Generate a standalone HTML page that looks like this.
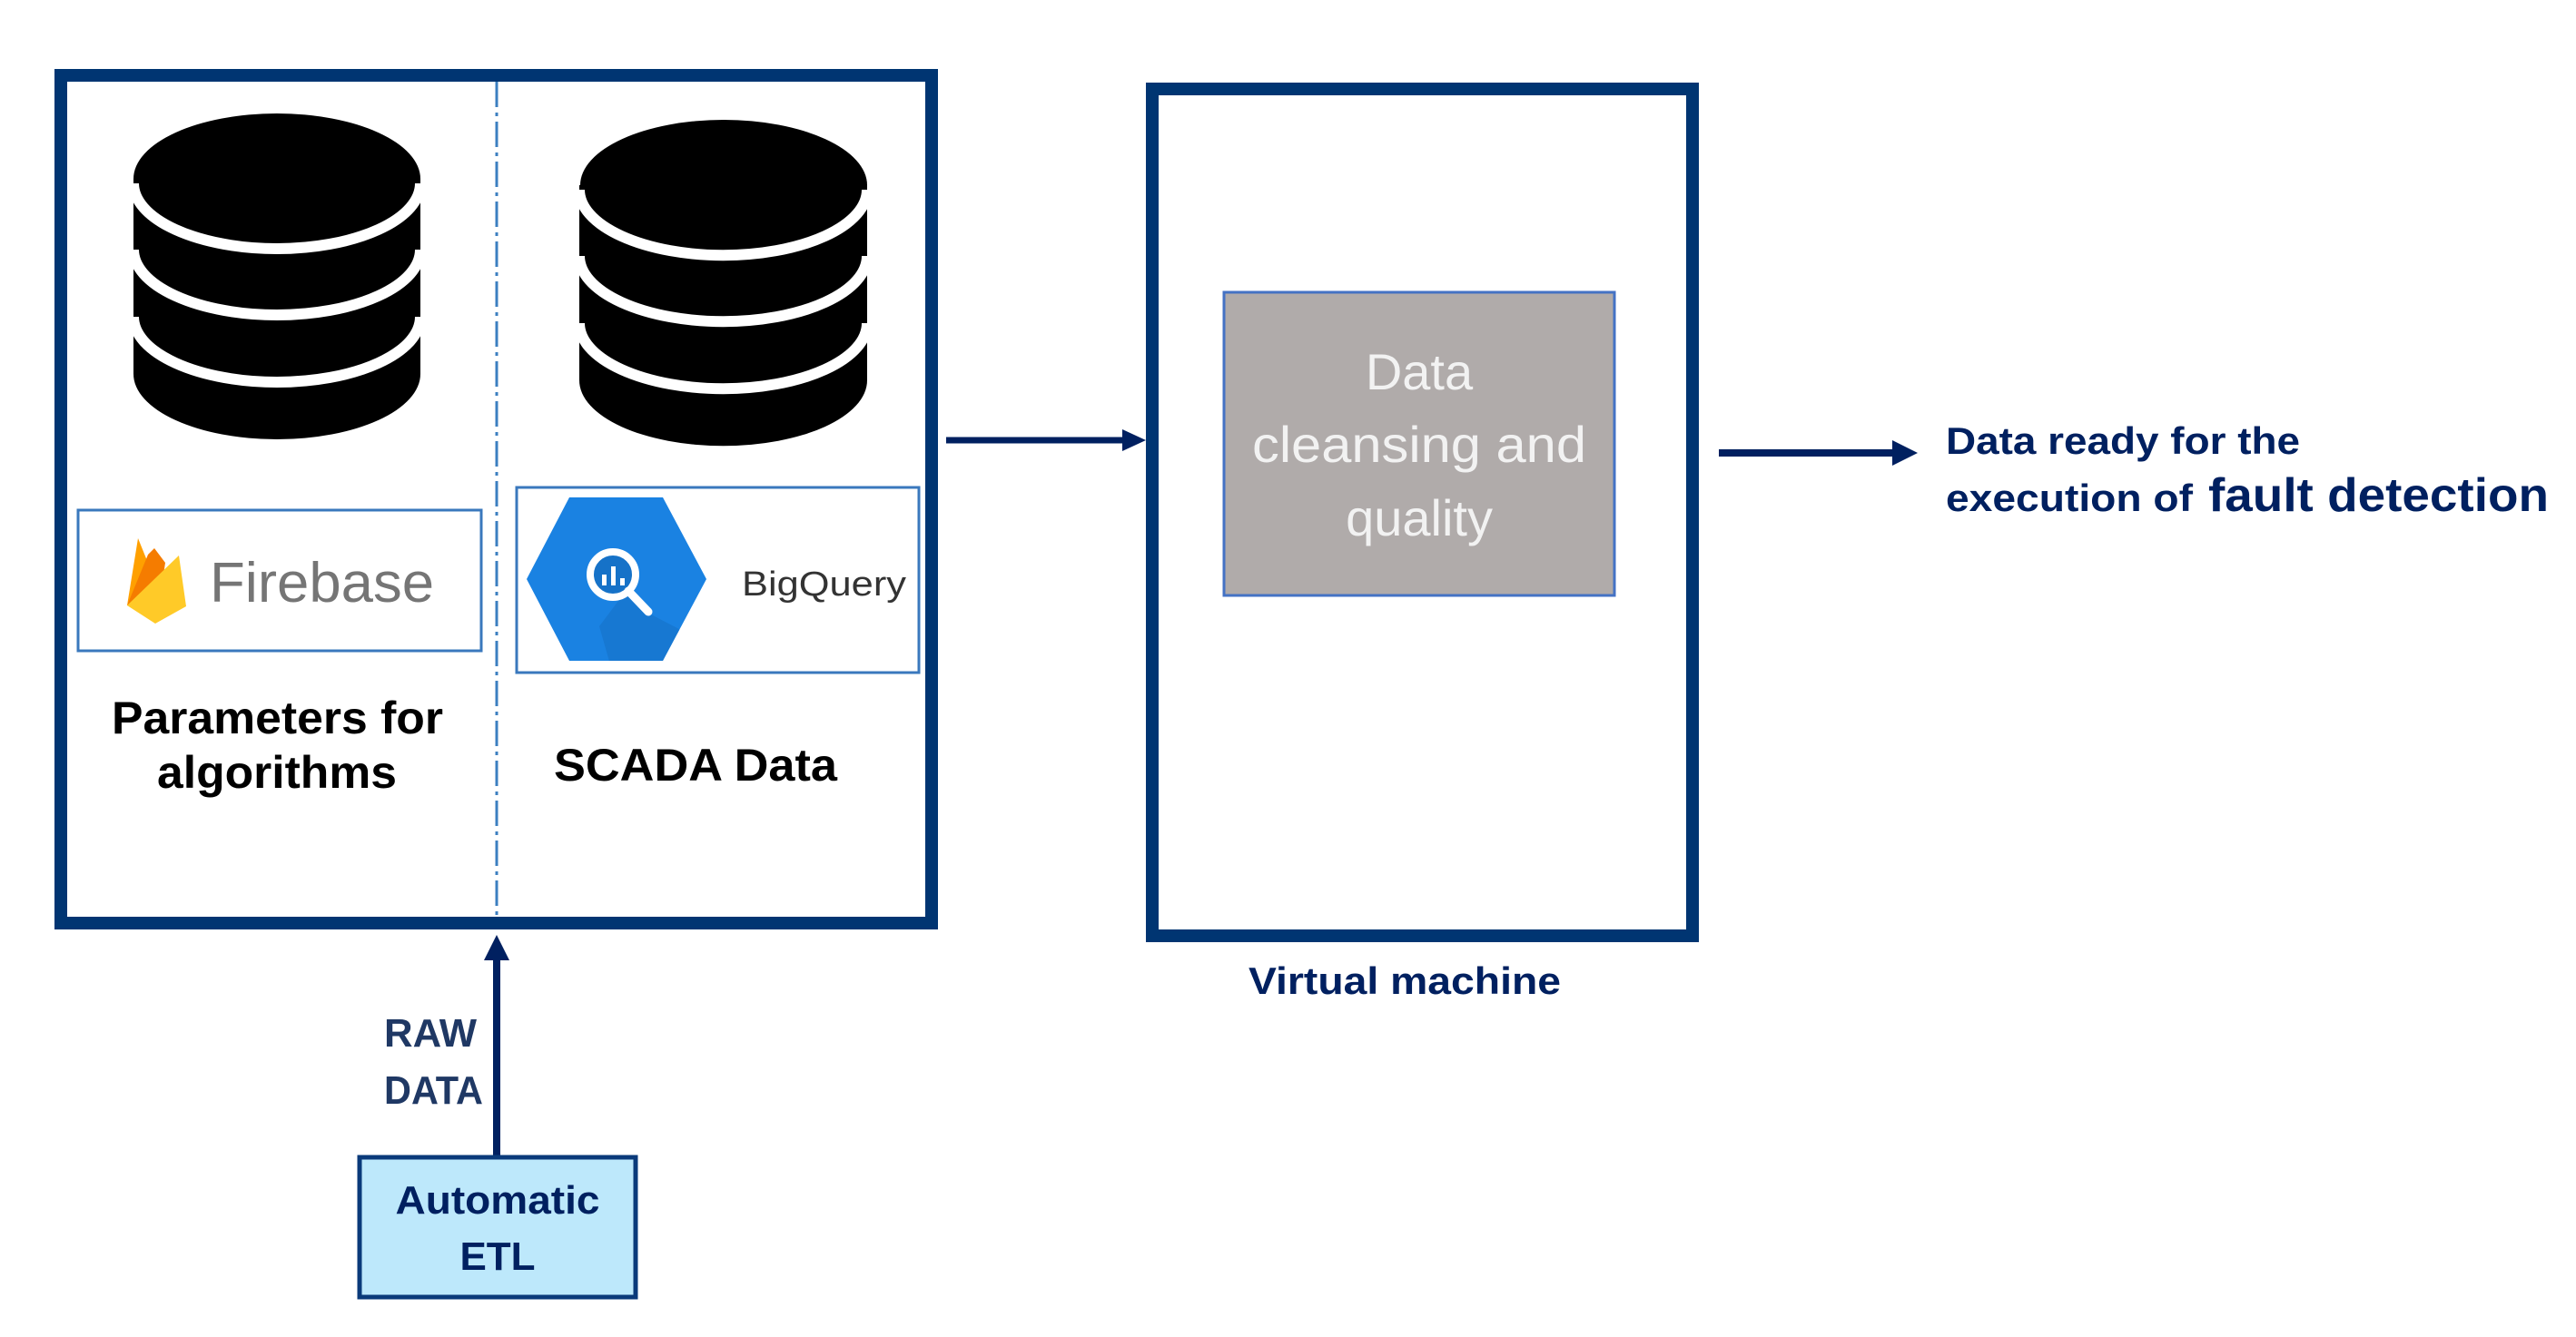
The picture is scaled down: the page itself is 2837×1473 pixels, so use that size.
<!DOCTYPE html>
<html><head><meta charset="utf-8"><style>html,body{margin:0;padding:0;background:#fff}svg{display:block}</style></head>
<body>
<svg width="2837" height="1473" viewBox="0 0 2837 1473" xmlns="http://www.w3.org/2000/svg">
<defs><clipPath id="hex"><polygon points="580,638 627,548 730,548 778,638 730,728 627,728"/></clipPath></defs>
<rect width="2837" height="1473" fill="#fff"/>
<rect x="67" y="83" width="959" height="934" fill="#fff" stroke="#003572" stroke-width="14"/>
<line x1="547" y1="90" x2="547" y2="1010" stroke="#3c7fc0" stroke-width="3" stroke-dasharray="28,6,4,6"/>
<g>
<path d="M147 197 L147 412 A158 72 0 0 0 463 412 L463 197 Z" fill="#000"/>
<ellipse cx="305" cy="197" rx="158" ry="72" fill="#000"/>
<path d="M147 202 A158 72 0 0 0 463 202" fill="none" stroke="#fff" stroke-width="12"/>
<path d="M147 275 A158 72 0 0 0 463 275" fill="none" stroke="#fff" stroke-width="12"/>
<path d="M147 349 A158 72 0 0 0 463 349" fill="none" stroke="#fff" stroke-width="12"/>
</g>
<g>
<path d="M638 204 L638 419 A158 72 0 0 0 955 419 L955 204 Z" fill="#000"/>
<ellipse cx="797" cy="204" rx="158" ry="72" fill="#000"/>
<path d="M638 209 A158 72 0 0 0 955 209" fill="none" stroke="#fff" stroke-width="12"/>
<path d="M638 282 A158 72 0 0 0 955 282" fill="none" stroke="#fff" stroke-width="12"/>
<path d="M638 356 A158 72 0 0 0 955 356" fill="none" stroke="#fff" stroke-width="12"/>
</g>
<rect x="86" y="562" width="444" height="155" fill="#fff" stroke="#3a78bd" stroke-width="3"/>
<polygon points="140,667 152,593 171,640" fill="#ffa000"/>
<polygon points="140,667 163,611 170,604 182,620 176,660" fill="#f57c00"/>
<polygon points="140,667 197,612 205,668 171,687" fill="#ffca28"/>
<text x="231" y="663" font-family="Liberation Sans, sans-serif" font-size="62" fill="#757575" textLength="247" lengthAdjust="spacingAndGlyphs">Firebase</text>
<rect x="569" y="537" width="443" height="204" fill="#fff" stroke="#3a78bd" stroke-width="3"/>
<polygon points="580,638 627,548 730,548 778,638 730,728 627,728" fill="#1a82e2"/>
<polygon clip-path="url(#hex)" points="690,650 717,677 800,720 760,760 680,760 660,690" fill="#1672c8" opacity="0.6"/>
<circle cx="675" cy="633" r="25" fill="#1672c8" stroke="#fff" stroke-width="8"/>
<line x1="692" y1="651" x2="714" y2="674" stroke="#fff" stroke-width="9" stroke-linecap="round"/>
<rect x="663" y="633" width="5" height="12" fill="#fff"/>
<rect x="673" y="624" width="5" height="21" fill="#fff"/>
<rect x="683" y="637" width="5" height="8" fill="#fff"/>
<text x="817" y="656" font-family="Liberation Sans, sans-serif" font-size="38" fill="#333" textLength="181" lengthAdjust="spacingAndGlyphs">BigQuery</text>
<g font-family="Liberation Sans, sans-serif" font-weight="bold" font-size="50" fill="#000">
<text x="123" y="808" textLength="365" lengthAdjust="spacingAndGlyphs">Parameters for</text>
<text x="173" y="868" textLength="264" lengthAdjust="spacingAndGlyphs">algorithms</text>
<text x="610" y="860" textLength="312" lengthAdjust="spacingAndGlyphs">SCADA  Data</text>
</g>
<line x1="1042" y1="485" x2="1240" y2="485" stroke="#002060" stroke-width="7"/>
<polygon points="1236,473 1262,485 1236,497" fill="#002060"/>
<rect x="1269" y="98" width="595" height="933" fill="#fff" stroke="#003572" stroke-width="14"/>
<rect x="1348" y="322" width="430" height="334" fill="#b0abaa" stroke="#4472c4" stroke-width="3"/>
<g font-family="Liberation Sans, sans-serif" font-size="56" fill="#f2f2f2" text-anchor="middle">
<text x="1563" y="429">Data</text>
<text x="1563" y="509" textLength="368" lengthAdjust="spacingAndGlyphs">cleansing and</text>
<text x="1563" y="590">quality</text>
</g>
<text x="1375" y="1095" font-family="Liberation Sans, sans-serif" font-weight="bold" font-size="42" fill="#002060" textLength="344" lengthAdjust="spacingAndGlyphs">Virtual machine</text>
<line x1="1893" y1="499" x2="2090" y2="499" stroke="#002060" stroke-width="8"/>
<polygon points="2084,485 2112,499 2084,513" fill="#002060"/>
<g font-family="Liberation Sans, sans-serif" font-weight="bold" fill="#002060">
<text x="2143" y="500" font-size="42" textLength="390" lengthAdjust="spacingAndGlyphs">Data ready for the</text>
<text x="2143" y="563" font-size="42" textLength="272" lengthAdjust="spacingAndGlyphs">execution of</text>
<text x="2432" y="563" font-size="52" textLength="375" lengthAdjust="spacingAndGlyphs">fault detection</text>
</g>
<line x1="547" y1="1275" x2="547" y2="1055" stroke="#002060" stroke-width="8"/>
<polygon points="533,1058 547,1030 561,1058" fill="#002060"/>
<g font-family="Liberation Sans, sans-serif" font-weight="bold" font-size="44" fill="#1f3864">
<text x="423" y="1153" textLength="102" lengthAdjust="spacingAndGlyphs">RAW</text>
<text x="423" y="1216" textLength="109" lengthAdjust="spacingAndGlyphs">DATA</text>
</g>
<rect x="396" y="1275" width="304" height="154" fill="#bde8fb" stroke="#0a3a7a" stroke-width="5"/>
<g font-family="Liberation Sans, sans-serif" font-weight="bold" font-size="44" fill="#002060" text-anchor="middle">
<text x="548" y="1337" textLength="225" lengthAdjust="spacingAndGlyphs">Automatic</text>
<text x="548" y="1399">ETL</text>
</g>
</svg>
</body></html>
